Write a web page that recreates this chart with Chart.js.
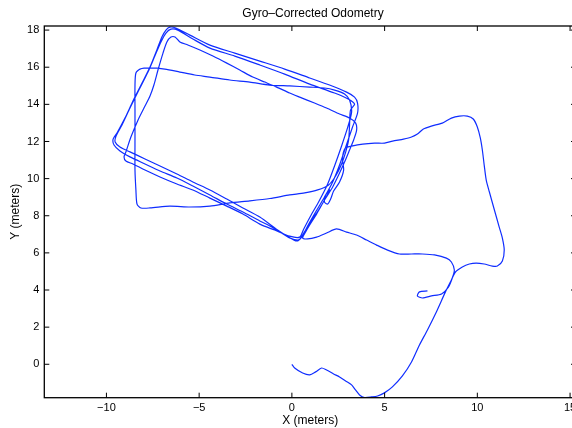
<!DOCTYPE html>
<html><head><meta charset="utf-8">
<script src="https://cdn.jsdelivr.net/npm/chart.js@4.4.0/dist/chart.umd.min.js"></script>
<style>html,body{margin:0;padding:0;overflow:hidden;background:#fff;}canvas{display:block;}</style>
</head><body>
<canvas id="c" width="590" height="428"></canvas>
<script>
// ---- Data (meters) ----
const approachPath = [[0,0],[0.15,-0.2],[0.58,-0.47],[0.96,-0.57],[1.28,-0.41],[1.6,-0.2],[1.87,-0.31],[2.25,-0.52],[2.57,-0.68],[2.9,-0.9],[3.22,-1.11],[3.43,-1.38],[3.65,-1.65],[3.92,-1.79],[4.29,-1.76],[4.62,-1.71],[4.99,-1.54],[5.42,-1.22],[5.96,-0.63],[6.45,0.12],[6.88,1.04],[7.31,1.85],[7.79,2.82],[8.28,3.9],[8.6,4.54],[8.82,4.97]];
const rightLoop = [[9.19,5.24],[9.57,5.4],[9.94,5.45],[10.37,5.4],[10.81,5.29],[11.08,5.29],[11.35,5.56],[11.45,6.16],[11.35,6.8],[11.18,7.39],[10.92,8.31],[10.65,9.28],[10.48,9.92],[10.37,10.73],[10.27,11.54],[10.16,12.19],[10.0,12.78],[9.78,13.21],[9.46,13.37],[9.03,13.37],[8.6,13.26],[8.11,12.99],[7.52,12.83],[7.09,12.67],[6.77,12.4],[6.45,12.24],[6.02,12.13],[5.43,12.02],[5.0,11.91],[4.46,11.91],[3.82,11.86],[3.22,11.75],[2.89,11.65]];
const entryPath = [[2.73,11.11],[2.79,10.46],[2.57,9.82],[2.25,9.33],[2.09,8.9],[1.93,8.63],[1.76,8.74],[1.82,9.12],[2.03,9.39],[1.82,8.96],[1.44,8.31],[1.01,7.67],[0.64,7.07],[0.37,6.7]];
const lapA = [[-0.12,6.81],[-0.66,7.14],[-1.19,7.45],[-1.73,7.72],[-2.54,8.15],[-3.51,8.63],[-4.42,9.12],[-5.34,9.6],[-6.2,10.03],[-7.11,10.41],[-7.92,10.79],[-8.73,11.17],[-9.27,11.49],[-9.59,11.81],[-9.64,12.13],[-9.43,12.46],[-9.0,13.26],[-8.57,14.18],[-8.08,15.15],[-7.65,16.01],[-7.28,16.93],[-7.01,17.63],[-6.79,18.0],[-6.58,18.16],[-6.26,18.11],[-5.5,17.73],[-4.42,17.19],[-3.08,16.76],[-1.73,16.33],[-0.39,15.9],[0.96,15.42],[2.03,15.04],[2.95,14.66],[3.38,14.39],[3.54,14.07],[3.54,13.53],[3.27,12.78],[2.94,11.81],[2.57,10.73],[2.2,9.82],[1.76,9.01],[1.28,8.2],[0.85,7.45],[0.53,6.85],[0.26,6.64]];
const lapB = [[-0.23,6.89],[-0.77,7.23],[-1.73,7.93],[-2.64,8.42],[-3.51,8.9],[-4.42,9.39],[-5.34,9.82],[-6.2,10.25],[-7.11,10.68],[-7.92,11.06],[-8.73,11.44],[-9.27,11.7],[-9.53,11.97],[-9.48,12.3],[-9.16,12.89],[-8.73,13.8],[-8.25,14.77],[-7.76,15.74],[-7.39,16.6],[-7.06,17.36],[-6.79,17.84],[-6.52,18.05],[-6.15,18.0],[-5.34,17.52],[-4.42,17.03],[-3.08,16.6],[-1.73,16.12],[-0.39,15.63],[0.96,15.09],[2.3,14.61],[3.06,14.28],[3.38,14.01]];
const squareLoop = [[3.16,13.69],[3.11,12.88],[3.06,12.08],[2.9,11.43],[2.68,10.79],[2.36,10.14],[1.98,9.66],[1.39,9.39],[0.69,9.23],[-0.12,9.12],[-1.19,8.93],[-2.27,8.8],[-3.35,8.69],[-4.42,8.52],[-5.5,8.47],[-6.58,8.52],[-7.65,8.42],[-8.14,8.42],[-8.35,8.63],[-8.41,9.39],[-8.46,10.46],[-8.46,12.08],[-8.46,13.69],[-8.46,15.04],[-8.41,15.69],[-8.19,15.9],[-7.65,15.96],[-6.85,15.9],[-6.04,15.74],[-5.24,15.58],[-4.42,15.47],[-3.35,15.31],[-2.27,15.2],[-1.19,15.04],[-0.12,14.99],[0.96,14.93],[1.76,14.88],[2.3,14.77],[2.84,14.56],[3.11,14.23]];
const lapBTail = [[3.22,13.58],[3.0,12.73],[2.68,11.76],[2.3,10.68],[1.93,9.71],[1.44,8.74],[1.01,7.99],[0.64,7.29],[0.42,6.85]];
const lapC = [[-0.12,6.9],[-0.93,7.23],[-1.73,7.55],[-2.64,8.09],[-3.51,8.52],[-4.42,8.95],[-5.34,9.39],[-6.2,9.71],[-7.11,10.09],[-7.92,10.46],[-8.57,10.79],[-8.95,10.95],[-9.05,11.17],[-8.95,11.44],[-8.68,12.24],[-8.3,13.15],[-7.92,13.91],[-7.65,14.45],[-7.44,15.04],[-7.22,15.85],[-6.95,16.76],[-6.74,17.36],[-6.52,17.63],[-6.3,17.63],[-6.04,17.36],[-5.61,17.2],[-4.96,16.93],[-4.26,16.6],[-3.51,16.22],[-2.81,15.85],[-2.11,15.47],[-1.46,15.2],[-0.82,14.93],[-0.12,14.61],[0.42,14.39],[1.22,14.07],[1.87,13.8],[2.57,13.48],[3.11,13.26],[3.44,12.99],[3.49,12.61],[3.33,12.08],[3.11,11.54],[2.84,10.89],[2.52,10.19],[2.2,9.55],[1.76,8.85],[1.33,8.09],[0.96,7.5],[0.74,7.12],[0.58,6.8]];
const exitPath = [[0.85,6.75],[1.33,6.85],[1.87,7.07],[2.41,7.29],[2.95,7.12],[3.49,6.96],[4.03,6.69],[4.57,6.42],[5.16,6.15],[5.8,5.94],[6.45,5.94],[7.04,5.94],[7.69,5.89],[8.33,5.72],[8.6,5.51],[8.76,5.08],[8.65,4.65],[8.44,4.16],[8.07,3.79],[7.53,3.68],[7.04,3.57],[6.77,3.68],[6.88,3.9],[7.31,3.95]];

const xTicks = [-10, -5, 0, 5, 10, 15];
const yTicks = [0, 2, 4, 6, 8, 10, 12, 14, 16, 18];
const xLimits = [-13.35, 15.32];
const yLimits = [-1.8, 18.22];
const chartTitle = 'Gyro\u2013Corrected Odometry';
const xLabel = 'X (meters)';
const yLabel = 'Y (meters)';

// ---- Build ----
const trajectory = [].concat(approachPath, rightLoop, entryPath, lapA, lapB, squareLoop, lapBTail, lapC, exitPath)
  .map(p => ({ x: p[0], y: p[1] }));

const FONT = '"Liberation Sans", Arial, Helvetica, sans-serif';
const fmt = v => String(v).replace('-', '\u2212');

const framePlugin = {
  id: 'frame',
  afterDraw(chart) {
    const { ctx, chartArea: a, scales: { x, y } } = chart;
    ctx.save();
    ctx.strokeStyle = '#000';
    ctx.lineWidth = 1;
    ctx.beginPath();
    xTicks.forEach(v => {
      const px = x.getPixelForValue(v);
      ctx.moveTo(px, a.bottom); ctx.lineTo(px, a.bottom - 5);
      ctx.moveTo(px, a.top); ctx.lineTo(px, a.top + 5);
    });
    yTicks.forEach(v => {
      const py = y.getPixelForValue(v);
      ctx.moveTo(a.left, py); ctx.lineTo(a.left + 5, py);
      ctx.moveTo(a.right, py); ctx.lineTo(a.right - 5, py);
    });
    ctx.stroke();
    ctx.lineWidth = 1.3;
    ctx.strokeRect(a.left, a.top, a.right - a.left, a.bottom - a.top);
    ctx.fillStyle = '#000';
    ctx.font = '12px ' + FONT;
    ctx.textAlign = 'center';
    ctx.textBaseline = 'middle';
    ctx.fillText(chartTitle, 313, 14);
    ctx.restore();
  }
};

new Chart(document.getElementById('c'), {
  type: 'scatter',
  data: {
    datasets: [{
      data: trajectory,
      showLine: true,
      borderColor: 'rgb(15,45,255)',
      borderWidth: 1.2,
      pointRadius: 0,
      tension: 0.25,
      fill: false
    }]
  },
  options: {
    responsive: false,
    animation: false,
    devicePixelRatio: 1,
    layout: { padding: { top: 26, right: 14, left: 0, bottom: 0 } },
    plugins: { legend: { display: false }, tooltip: { enabled: false }, title: { display: false } },
    scales: {
      x: {
        type: 'linear',
        min: xLimits[0], max: xLimits[1],
        afterBuildTicks: s => { s.ticks = xTicks.map(v => ({ value: v })); },
        afterFit: s => { s.height = 30.3; },
        grid: { display: false, drawTicks: false },
        border: { display: false },
        ticks: { color: '#000', padding: 4, maxRotation: 0, autoSkip: false, font: { family: FONT, size: 11 }, callback: v => fmt(v) },
        title: { display: true, text: xLabel, color: '#000', padding: { top: 0, bottom: 0 }, font: { family: FONT, size: 12 } }
      },
      y: {
        type: 'linear',
        min: yLimits[0], max: yLimits[1],
        afterBuildTicks: s => { s.ticks = yTicks.map(v => ({ value: v })); },
        afterFit: s => { s.width = 44.3; },
        grid: { display: false, drawTicks: false },
        border: { display: false },
        ticks: { color: '#000', padding: 5, autoSkip: false, font: { family: FONT, size: 11 }, callback: v => fmt(v) },
        title: { display: true, text: yLabel, color: '#000', padding: { top: 8, bottom: 0 }, font: { family: FONT, size: 12 } }
      }
    }
  },
  plugins: [framePlugin]
});
</script>
</body></html>
